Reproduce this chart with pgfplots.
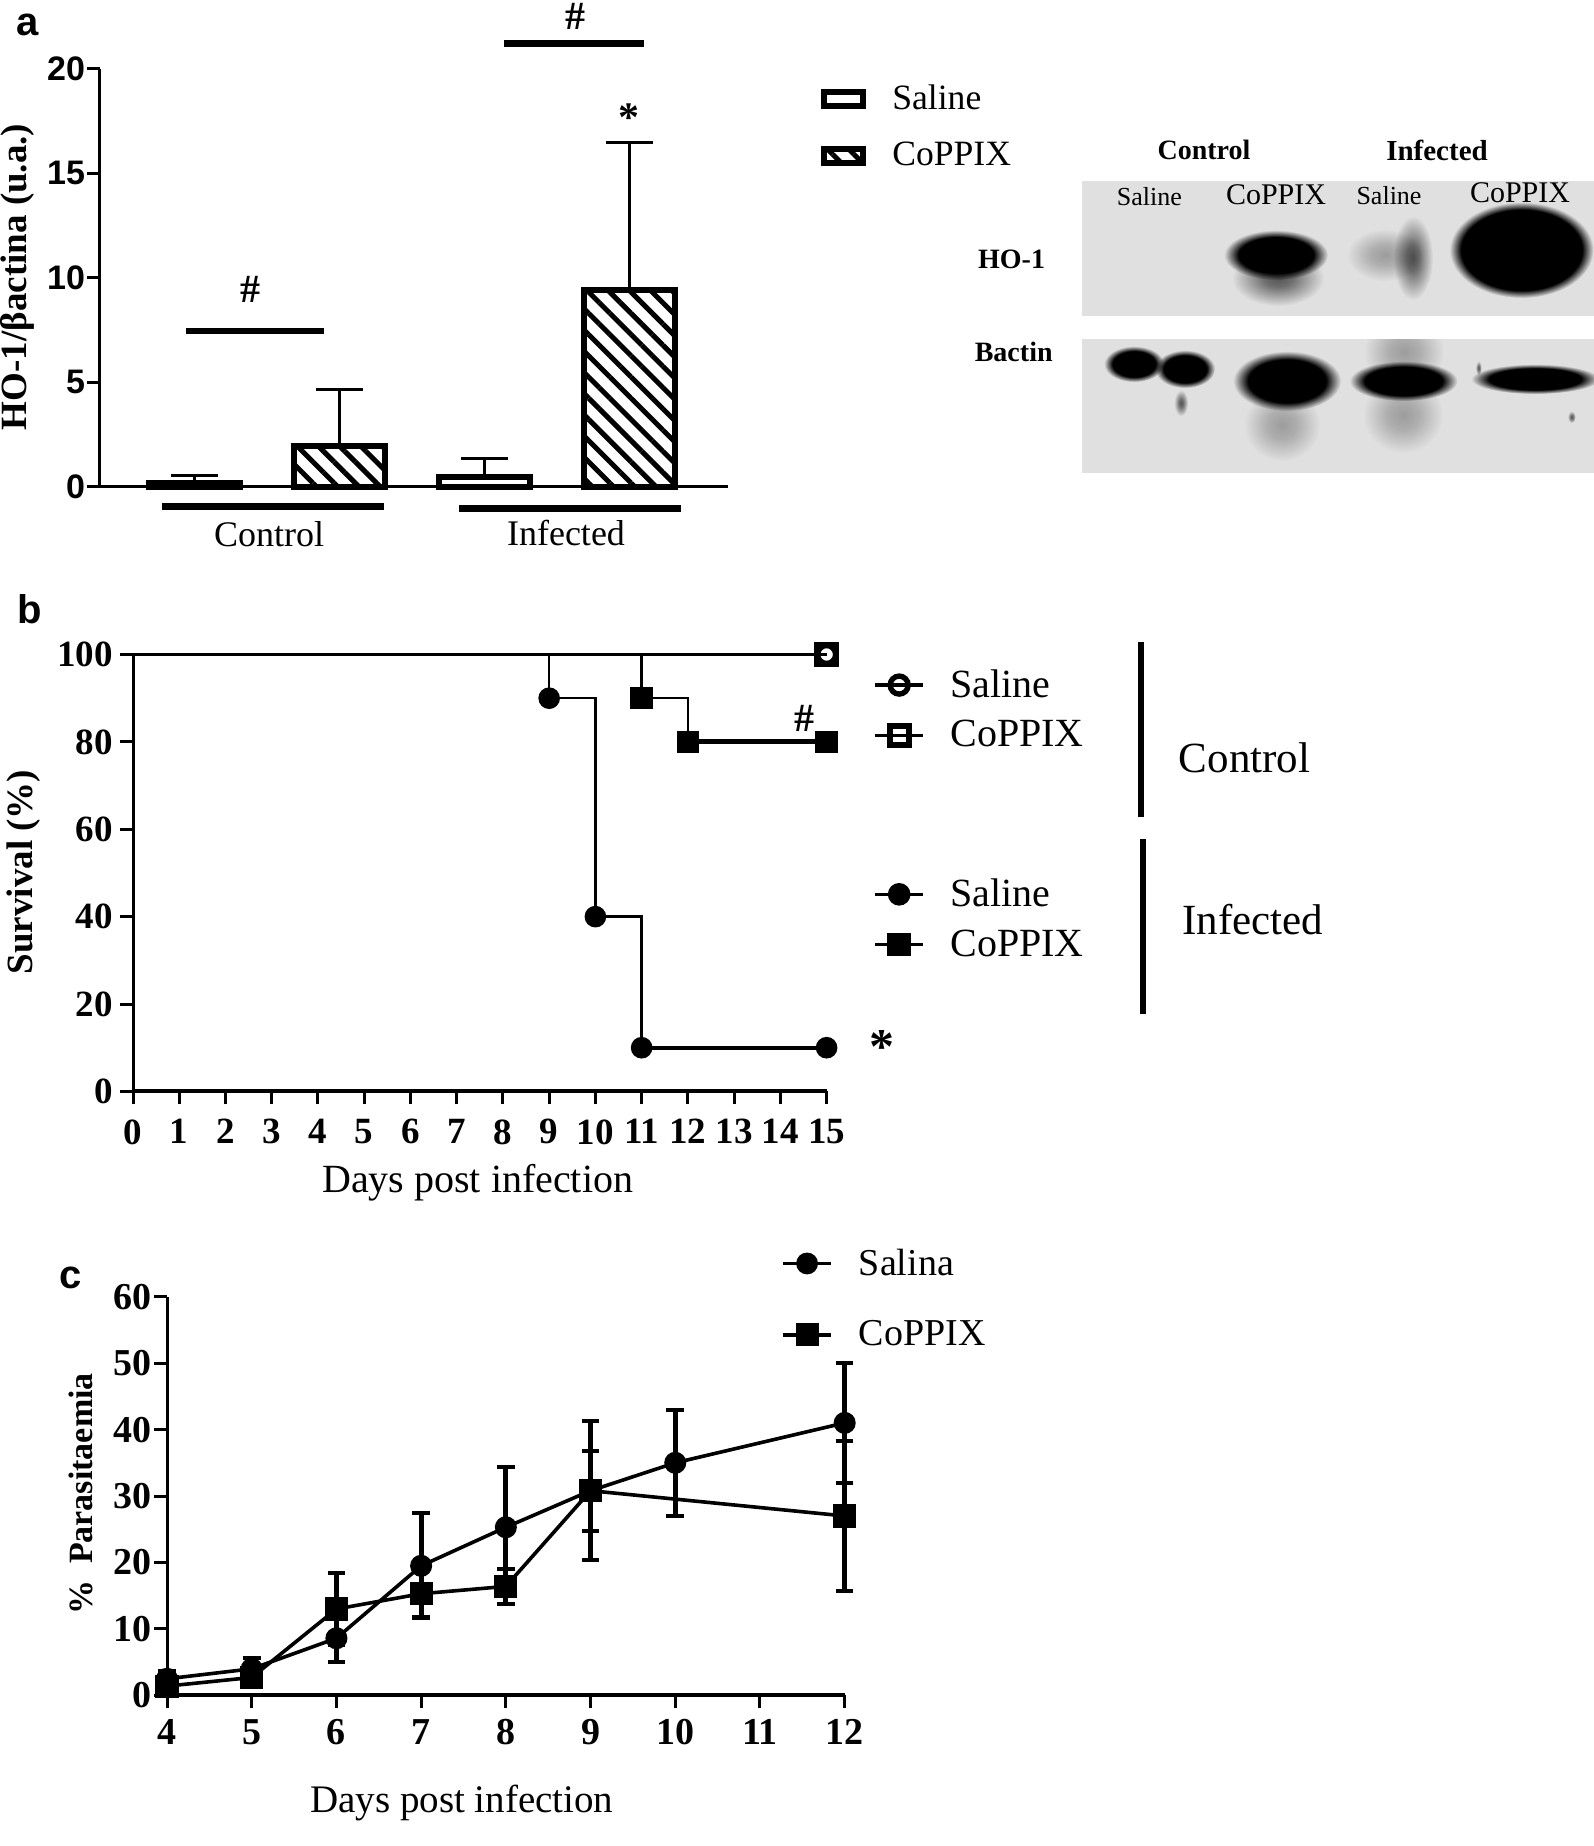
\documentclass[border=0pt]{standalone}
\usepackage{fontspec}
\usepackage{pgfplots}
\pgfplotsset{compat=1.18}
\usetikzlibrary{patterns.meta}
\setmainfont{Liberation Serif}
\newfontfamily\lsans{Liberation Sans}
\definecolor{blot}{HTML}{E0E0E0}
\pgfdeclareradialshading{blob}{\pgfpoint{0bp}{0bp}}{color(0bp)=(black); color(18bp)=(black); color(25bp)=(white); color(50bp)=(white)}
\pgfdeclareradialshading{blobbig}{\pgfpoint{0bp}{0bp}}{color(0bp)=(black); color(21bp)=(black); color(25bp)=(white); color(50bp)=(white)}
\pgfdeclareradialshading{blobsoft}{\pgfpoint{0bp}{0bp}}{color(0bp)=(black!62); color(8bp)=(black!50); color(25bp)=(white); color(50bp)=(white)}
\pgfdeclareradialshading{blobfaint}{\pgfpoint{0bp}{0bp}}{color(0bp)=(black!30); color(10bp)=(black!22); color(25bp)=(white); color(50bp)=(white)}
\newcommand{\fs}[1]{\fontsize{#1}{#1}\selectfont}
\pgfplotsset{
  common/.style={
    scale only axis, clip=false,
    axis lines=left, axis line style={-,line width=1.5pt},
    tick align=outside, tick pos=left,
    major tick style={line width=1.5pt,black},
    major tick length=6.5pt,
    /pgf/number format/assume math mode=true,
  },
  hline legend/.style={legend image code/.code={%
    \draw[##1,mark indices={2},line width=1.7pt] plot coordinates {(0pt,0pt)(12pt,0pt)(24pt,0pt)};
    \path (35pt,0pt);}},
}
\begin{document}
\begin{tikzpicture}
\useasboundingbox (0pt,0pt) rectangle (797pt,-923pt);

% ---------------------- panel a
\begin{axis}[common,
  at={(50pt,-243.25pt)},anchor=south west,width=314pt,height=208.75pt,
  xmin=0.348,xmax=4.679,ymin=0,ymax=20,
  xtick=\empty,ytick={0,5,10,15,20},
  yticklabel style={font=\lsans\bfseries\fs{17},xshift=2.5pt},
  ylabel={HO-1/βactina (u.a.)},
  every axis y label/.style={at={(axis description cs:-0.132,0.502)},rotate=90,anchor=center,font=\bfseries\fs{18.5}},
  ybar,bar shift=0pt,bar width=45.5pt,
  legend style={at={(1.148,0.973)},anchor=north west,draw=none,fill=none,inner sep=0pt,row sep=11pt,font=\fs{17.8}},
  legend cell align=left,
  error bars/error bar style={line width=1.5pt,black},
  error bars/error mark options={rotate=90,line width=1.5pt,mark size=11.75pt,black},
]
\addplot[draw=black,line width=3pt,fill=white,
  legend image code/.code={\draw[line width=3pt,fill=white] (1.5pt,-3.5pt) rectangle (21pt,3.5pt);\path (32pt,0pt);},
  error bars/.cd,y dir=plus,y explicit]
  coordinates {(1,0.15) +- (0,0.4) (3,0.45) +- (0,0.87)};
\addlegendentry{Saline}
\addplot[draw=black,line width=3pt,pattern={Lines[angle=-45,distance=7.5pt,line width=2.5pt]},
  legend image code/.code={\draw[line width=3pt,pattern={Lines[angle=-45,distance=7.5pt,line width=2.5pt]}] (1.5pt,-3.5pt) rectangle (21pt,3.5pt);\path (32pt,0pt);},
  error bars/.cd,y dir=plus,y explicit]
  coordinates {(2,1.95) +- (0,2.7) (4,9.4) +- (0,7.1)};
\addlegendentry{CoPPIX}
\end{axis}

% ---------------------- panel b
\begin{axis}[common,
  at={(66.5pt,-545.7pt)},anchor=south west,width=346.8pt,height=218.45pt,
  xmin=0,xmax=15,ymin=0,ymax=100,
  xtick={0,...,15},ytick={0,20,...,100},
  ticklabel style={font=\bfseries\fs{18.5}},
  xticklabel style={yshift=-4pt},
  x axis line style={line width=2pt},
  ylabel={Survival (\%)},xlabel={Days post infection},
  every axis y label/.style={at={(axis description cs:-0.158,0.502)},rotate=90,anchor=center,font=\bfseries\fs{18.5}},
  every axis x label/.style={at={(axis description cs:0.497,-0.208)},anchor=center,font=\fs{20}},
  legend style={at={(1.067,0.9753)},anchor=north west,draw=none,fill=none,inner sep=0pt,row sep=6pt,font=\fs{20}},
  legend cell align=left,hline legend,
]
\addplot[black,line width=1.2pt,mark=o,mark size=4.5pt,mark options={line width=2.7pt},mark indices={2}]
  coordinates {(0,100)(15,100)};
\addlegendentry{Saline}
\addplot[black,line width=1.2pt,mark=square,mark size=4.7pt,mark options={line width=3pt},mark indices={2}]
  coordinates {(0,100)(15,100)};
\addlegendentry{CoPPIX}
\addlegendimage{empty legend}
\addlegendentry{\rule{0pt}{43pt}}
\addplot[black,line width=1.2pt,mark=*,mark size=4.8pt,mark options={fill=black},mark indices={3,5,7,8}]
  coordinates {(0,100)(9,100)(9,90)(10,90)(10,40)(11,40)(11,10)(15,10)};
\addlegendentry{Saline}
\addplot[black,line width=1.2pt,mark=square*,mark size=5pt,mark options={fill=black},mark indices={3,5,6}]
  coordinates {(0,100)(11,100)(11,90)(12,90)(12,80)(15,80)};
\addlegendentry{CoPPIX}
\addplot[forget plot,black,line width=2.4pt] coordinates {(12,80)(15,80)};
\addplot[forget plot,black,line width=1.8pt] coordinates {(11,40)(11,10)(15,10)};
\end{axis}

% ---------------------- panel c
\begin{axis}[common,
  at={(83.5pt,-847.7pt)},anchor=south west,width=338.85pt,height=199.4pt,
  xmin=4,xmax=12,ymin=0,ymax=60,
  xtick={4,...,12},ytick={0,10,...,60},
  ticklabel style={font=\bfseries\fs{19}},
  yticklabel style={xshift=2.5pt},
  xticklabel style={yshift=-2pt},
  x axis line style={line width=2pt},
  ylabel={\%\ \ Parasitaemia},xlabel={Days post infection},
  every axis y label/.style={at={(axis description cs:-0.127,0.505)},rotate=90,anchor=center,font=\bfseries\fs{17}},
  every axis x label/.style={at={(axis description cs:0.435,-0.269)},anchor=center,font=\fs{19.5}},
  legend style={at={(0.906,1.131)},anchor=north west,draw=none,fill=none,inner sep=0pt,row sep=17.3pt,font=\fs{19}},
  legend cell align=left,hline legend,
  error bars/error bar style={line width=2.6pt,black},
  error bars/error mark options={rotate=90,line width=2pt,mark size=4.4pt,black},
]
\addplot[black,line width=1.8pt,mark=*,mark size=4.6pt,mark options={fill=black},
  error bars/.cd,y dir=both,y explicit]
  coordinates {(4,2.5) +- (0,1.2) (5,4) +- (0,1.6) (6,8.6) +- (0,3.6) (7,19.5) +- (0,7.9)
               (8,25.3) +- (0,9.1) (9,30.8) +- (0,10.5) (10,35) +- (0,8) (12,41) +- (0,9)};
\addlegendentry{Salina}
\addplot[black,line width=1.8pt,mark=square*,mark size=4.9pt,mark options={fill=black},
  error bars/.cd,y dir=both,y explicit]
  coordinates {(4,1.4) +- (0,1) (5,2.7) +- (0,1) (6,13) +- (0,5.4) (7,15.3) +- (0,3.5)
               (8,16.4) +- (0,2.6) (9,30.8) +- (0,6) (12,27) +- (0,11.3)};
\addlegendentry{CoPPIX}
\end{axis}

% ---------------------- annotations, in pixels of the reference
\begin{scope}[x=0.5pt,y=-0.5pt]
\node[font=\lsans\bfseries\fs{20}] at (28,25) {a};
\node[font=\lsans\bfseries\fs{20}] at (30,609) {b};
\node[font=\lsans\bfseries\fs{20}] at (71,1278) {c};

% a brackets
\fill (504,40) rectangle (644,47);
\fill (186,327.5) rectangle (324,333.5);
\fill (162,502.5) rectangle (384,509.5);
\fill (459,504.5) rectangle (681,511.5);
\node[font=\bfseries\fs{20},inner sep=0pt] at (575.5,16) {\#};
\node[font=\bfseries\fs{20},inner sep=0pt] at (250,289) {\#};
\node[font=\bfseries\fs{21}] at (628.5,118) {*};
\node[font=\fs{18}] at (269,534.5) {Control};
\node[font=\fs{18}] at (566,533) {Infected};

% b annotations
\node[font=\bfseries\fs{20},inner sep=0pt] at (804,718) {\#};
\node[font=\bfseries\fs{25}] at (882,1047) {*};
\fill (1138,642) rectangle (1144,817);
\fill (1140,839) rectangle (1146,1014);
\node[anchor=west,inner sep=0pt,font=\fs{21.5}] at (1178.5,758) {Control};
\node[anchor=west,inner sep=0pt,font=\fs{21.5}] at (1182,919.5) {Infected};

% blots
\fill[blot] (1082,181) rectangle (1594,316);
\fill[blot] (1082,339) rectangle (1594,473);
\begin{scope}[blend mode=multiply]
\shade[shading=blobsoft] (1278,278) ellipse (46 and 28);
\shade[shading=blob] (1276,255) ellipse (52 and 25);
\shade[shading=blobfaint] (1385,255) ellipse (38 and 26);
\shade[shading=blobsoft] (1413,258) ellipse (20 and 42);
\shade[shading=blobbig] (1521.5,250) ellipse (72 and 48);
\shade[shading=blob] (1134,364) ellipse (30 and 18);
\shade[shading=blob] (1185,369) ellipse (30 and 19);
\shade[shading=blobsoft] (1181,403) ellipse (7 and 13);
\shade[shading=blobfaint] (1282,425) ellipse (38 and 36);
\shade[shading=blob] (1287,381) ellipse (54 and 30);
\begin{scope}
\clip (1082,339) rectangle (1594,473);
\shade[shading=blobfaint] (1404,352) ellipse (40 and 36);
\end{scope}
\shade[shading=blobfaint] (1403,415) ellipse (40 and 38);
\shade[shading=blob] (1403.5,381) ellipse (54 and 20);
\shade[shading=blob] (1535,379) ellipse (64 and 15);
\shade[shading=blobsoft] (1478.5,368) ellipse (3 and 7);
\shade[shading=blobsoft] (1571.6,417) ellipse (4 and 6);
\end{scope}

\node[font=\bfseries\fs{14}] at (1204,150) {Control};
\node[font=\bfseries\fs{14.5}] at (1437,150) {Infected};
\node[font=\fs{13}] at (1149.4,197) {Saline};
\node[font=\fs{15}] at (1276,195) {CoPPIX};
\node[font=\fs{13}] at (1389,195.4) {Saline};
\node[font=\fs{15}] at (1520,193) {CoPPIX};
\node[font=\bfseries\fs{14}] at (1011.6,259) {HO-1};
\node[font=\bfseries\fs{14}] at (1013.7,352) {Bactin};
\end{scope}
\end{tikzpicture}
\end{document}
